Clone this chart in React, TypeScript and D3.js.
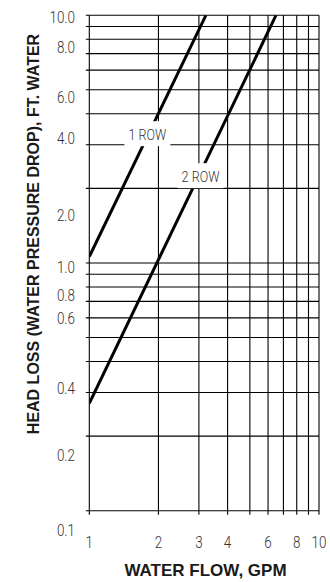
import React from "react";
import * as d3 from "d3";

// ---- data ----
const xTickValues = [1, 2, 3, 4, 6, 8, 10];
const xTickLabels = ["1", "2", "3", "4", "6", "8", "10"];

const yTickLabels = ["10.0", "8.0", "6.0", "4.0", "2.0", "1.0", "0.8", "0.6", "0.4", "0.2", "0.1"];
// values (on the log axis) where the original chart prints each label
const yTickLabelAnchors = [9.84, 7.43, 4.67, 3.19, 1.56, 0.964, 0.741, 0.599, 0.313, 0.168, 0.0835];

const row1Gpm = [1, 3.22];
const row1Ft = [1.06, 10];
const row2Gpm = [1, 6.5];
const row2Ft = [0.271, 10];

const seriesNames = ["1 ROW", "2 ROW"];
const seriesLabelGpm = [1.79, 3.05];
const seriesLabelFt = [3.31, 2.24];

const xTitle = "WATER FLOW, GPM";
const yTitle = "HEAD LOSS (WATER PRESSURE DROP), FT. WATER";

function LightText(props: { x: number; y: number; anchor: string; size: number; text: string; dy?: string }) {
  return (
    <g transform={`translate(${props.x},${props.y}) scale(0.84,1)`}>
      <text
        x={0}
        y={0}
        dy={props.dy}
        textAnchor={props.anchor}
        fontFamily="Roboto, 'Liberation Sans', Arial, sans-serif"
        fontWeight={300}
        fontSize={props.size}
        fill="#333"
      >
        {props.text}
      </text>
    </g>
  );
}

export default function App() {
  const W = 330, H = 582;
  const left = 89.3, right = 319, top = 15.2, bottom = 510.7;
  const x = d3.scaleLog().domain([1, 10]).range([left, right]);
  const y = d3.scaleLog().domain([0.1, 10]).range([bottom, top]);

  const xGrid = x.ticks();
  const yGrid = y.ticks();

  const line = d3
    .line<[number, number]>()
    .x((d) => x(d[0]))
    .y((d) => y(d[1]));

  const series = [
    row1Gpm.map((g, i) => [g, row1Ft[i]] as [number, number]),
    row2Gpm.map((g, i) => [g, row2Ft[i]] as [number, number]),
  ];

  const boldFont = "'Liberation Sans', Arial, Helvetica, sans-serif";

  return (
    <svg
      width={W}
      height={H}
      style={{ position: "absolute", left: 0, top: 0, background: "#fff" }}
    >
      <rect x={0} y={0} width={W} height={H} fill="#fff" />
      <defs>
        <clipPath id="plot">
          <rect x={left} y={top} width={right - left} height={bottom - top} />
        </clipPath>
      </defs>
      {yGrid.map((v, i) => (
        <line
          key={"h" + i}
          x1={left - 3.5}
          x2={right}
          y1={y(v)}
          y2={y(v)}
          stroke="#000"
          strokeWidth={1.1}
        />
      ))}
      {xGrid.map((v, i) => (
        <line
          key={"v" + i}
          x1={x(v)}
          x2={x(v)}
          y1={top}
          y2={bottom + 4}
          stroke="#000"
          strokeWidth={1.1}
        />
      ))}
      <g clipPath="url(#plot)">
        {series.map((s, i) => (
          <path key={"s" + i} d={line(s) || ""} fill="none" stroke="#000" strokeWidth={3} />
        ))}
      </g>
      {seriesNames.map((n, i) => {
        const cx = x(seriesLabelGpm[i]);
        const cy = y(seriesLabelFt[i]);
        return (
          <g key={"l" + i}>
            <rect x={cx - 23} y={cy - 13} width={46} height={25} fill="#fff" />
            <LightText x={cx} y={cy} dy="0.36em" anchor="middle" size={15} text={n} />
          </g>
        );
      })}
      {yTickLabels.map((t, i) => (
        <LightText
          key={"yt" + i}
          x={75}
          y={y(yTickLabelAnchors[i])}
          dy="0.36em"
          anchor="end"
          size={16}
          text={t}
        />
      ))}
      {xTickLabels.map((t, i) => (
        <LightText key={"xt" + i} x={x(xTickValues[i])} y={548} anchor="middle" size={16} text={t} />
      ))}
      <text
        x={205.5}
        y={576}
        textAnchor="middle"
        fontFamily={boldFont}
        fontWeight="bold"
        fontSize={17}
        fill="#1a1a1a"
      >
        {xTitle}
      </text>
      <text
        transform="translate(39,234) rotate(-90)"
        textAnchor="middle"
        fontFamily={boldFont}
        fontWeight="bold"
        fontSize={16}
        fill="#1a1a1a"
      >
        {yTitle}
      </text>
    </svg>
  );
}
